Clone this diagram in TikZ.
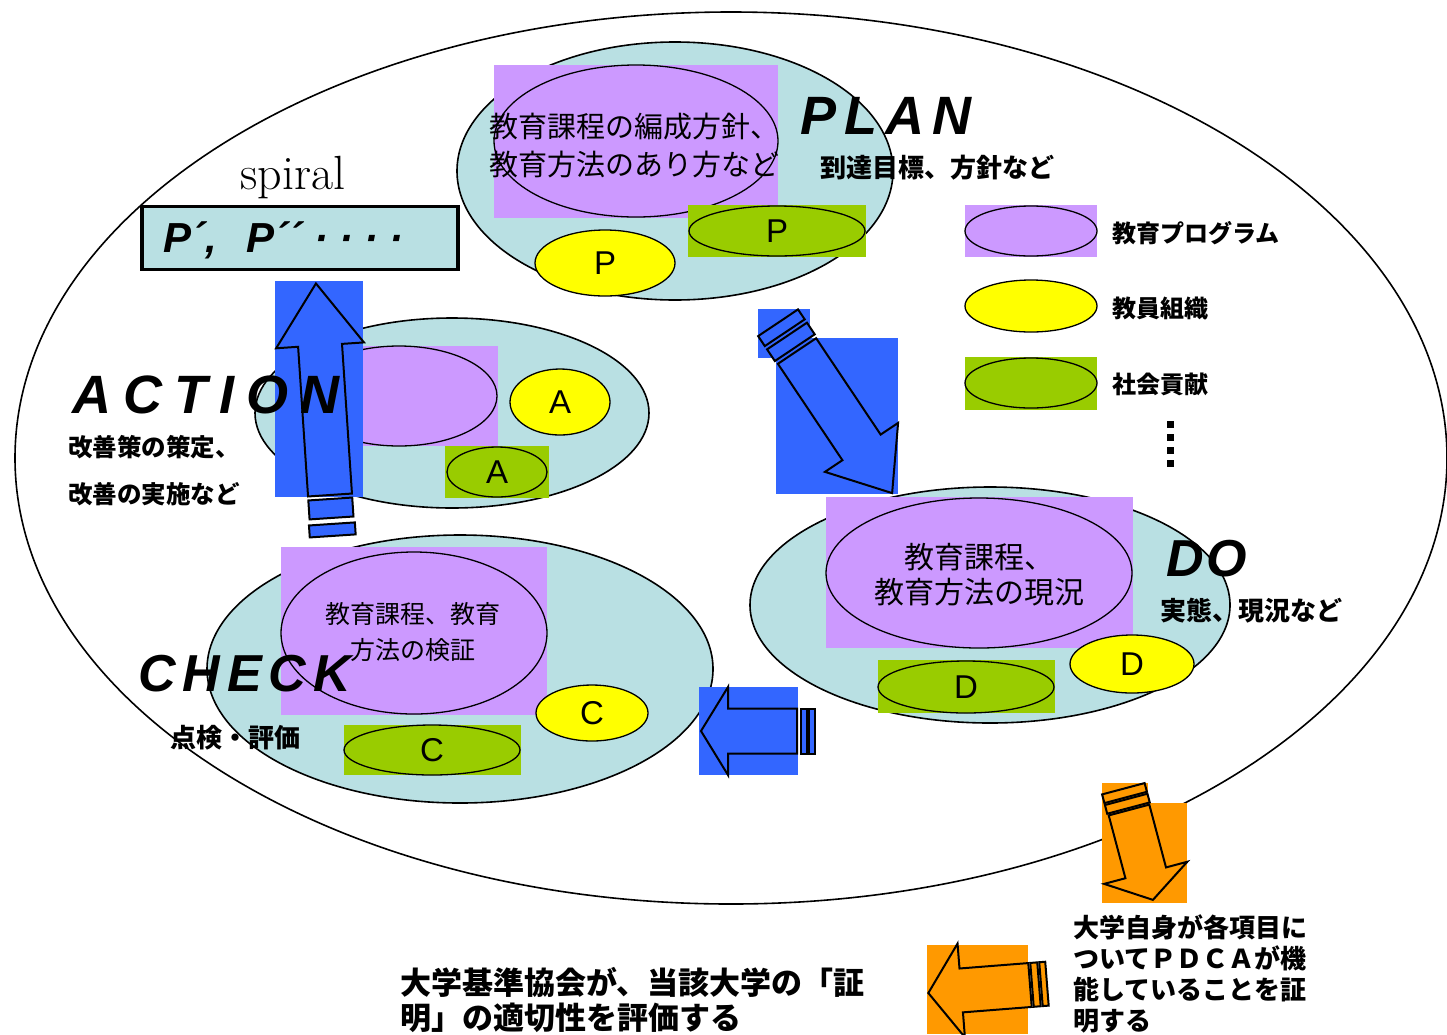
\documentclass[tikz,border=0pt]{standalone}
\usepackage{fontspec}
\newfontfamily\cjk{Noto Sans CJK JP}
\newfontfamily\arial{Liberation Sans}
\usetikzlibrary{shapes.geometric}
\definecolor{lblue}{HTML}{B9E0E3}
\definecolor{purp}{HTML}{CC99FF}
\definecolor{yel}{HTML}{FFFF00}
\definecolor{grn}{HTML}{99CC00}
\definecolor{blu}{HTML}{3366FF}
\definecolor{org}{HTML}{FF9900}
\tikzset{
  bigell/.style={ellipse, draw, line width=1.6pt, inner sep=0pt},
  cluster/.style={ellipse, draw, line width=1.6pt, fill=lblue, inner sep=0pt},
  oval/.style={ellipse, draw, line width=1.3pt, inner sep=0pt},
  yoval/.style={oval, fill=yel},
  goval/.style={oval, fill=grn},
  poval/.style={oval, fill=purp},
  letter/.style={font=\arial\fontsize{33}{33}\selectfont},
  phase/.style={font=\arial\bfseries\itshape\fontsize{54}{54}\selectfont, inner sep=0pt},
  note/.style={font=\cjk\bfseries\fontsize{26}{26}\selectfont, inner sep=0pt, anchor=west},
  inner/.style={font=\cjk\fontsize{29}{38}\selectfont, align=center, inner sep=0pt},
  arrowline/.style={draw=black, line width=2pt, line join=miter},
}
\newcommand\blockarrow[7]{%
  \begin{scope}[shift={#1},rotate=#2]
    \draw[arrowline,fill=#7] (0,-#6) -- ({#3-#4},-#6) -- ({#3-#4},-#5) -- (#3,0) -- ({#3-#4},#5) -- ({#3-#4},#6) -- (0,#6) -- cycle;
  \end{scope}}
\newcommand\arrowstripe[6]{%
  \begin{scope}[shift={#1},rotate=#2]
    \draw[arrowline,fill=#6] (-#3,-#5) rectangle (-#4,#5);
  \end{scope}}
\begin{document}
\begin{tikzpicture}[x=1pt,y=-1pt]
\useasboundingbox[fill=white] (0,0) rectangle (1447,1034);
% big ellipse
\node[bigell, minimum width=1432, minimum height=892] (world) at (731,458) {};
% clusters
\node[cluster, minimum width=436, minimum height=258] (planE) at (675,171) {};
\node[cluster, minimum width=394, minimum height=190] (actE) at (452,413) {};
\node[cluster, minimum width=506, minimum height=268] (chkE) at (460,669) {};
\node[cluster, minimum width=480, minimum height=236] (doE) at (990,605) {};
% PLAN group
\fill[purp] (494,65) rectangle (778,218);
\node[oval, minimum width=284, minimum height=152] (planP) at (636,141) {};
\node[inner] (planT) at (634,145) {教育課程の編成方針、\\教育方法のあり方など};
\fill[grn] (688,205) rectangle (866,257);
\node[goval, letter, minimum width=176, minimum height=50] (planG) at (777,231) {P};
\node[yoval, letter, minimum width=140, minimum height=66] (planY) at (605,263) {P};
% ACTION group
\fill[purp] (363,346) rectangle (498,446);
\node[poval, minimum width=196, minimum height=100] (actP) at (399,396) {};
\node[yoval, letter, minimum width=100, minimum height=66] (actY) at (560,402) {A};
\fill[grn] (445,446) rectangle (549,498);
\node[goval, letter, minimum width=100, minimum height=50] (actG) at (497,472) {A};
% CHECK group
\fill[purp] (281,547) rectangle (547,715);
\node[oval, minimum width=266, minimum height=162] (chkP) at (414,633) {};
\node[inner, font=\cjk\fontsize{25}{36}\selectfont] (chkT) at (413,632) {教育課程、教育\\方法の検証};
\node[yoval, letter, minimum width=112, minimum height=56] (chkY) at (592,713) {C};
\fill[grn] (344,725) rectangle (521,775);
\node[goval, letter, minimum width=176, minimum height=50] (chkG) at (432,750) {C};
% DO group
\fill[purp] (826,497) rectangle (1133,648);
\node[oval, minimum width=306, minimum height=150] (doP) at (979,573) {};
\node[inner, font=\cjk\fontsize{30}{35}\selectfont] (doT) at (979,575) {教育課程、\\教育方法の現況};
\node[yoval, letter, minimum width=124, minimum height=58] (doY) at (1132,664) {D};
\fill[grn] (878,660) rectangle (1055,713);
\node[goval, letter, minimum width=176, minimum height=52] (doG) at (966,687) {D};
% blue arrows
\fill[blu] (275,281) rectangle (363,497);
\blockarrow{(330,495)}{93.8}{212}{62}{44}{22}{blu}
\arrowstripe{(330,495)}{93.8}{4}{23}{22}{blu}
\arrowstripe{(330,495)}{93.8}{29}{41}{23}{blu}
\fill[blu] (776,338) rectangle (898,494);
\fill[blu] (758,309) rectangle (810,358);
\blockarrow{(797,351)}{-56.2}{171}{55}{44}{23}{blu}
\arrowstripe{(797,351)}{-56.2}{4}{18}{24}{blu}
\arrowstripe{(797,351)}{-56.2}{22}{34}{24}{blu}
\fill[blu] (699,687) rectangle (798,775);
\blockarrow{(797,731)}{180}{96}{27}{44}{22.5}{blu}
\arrowstripe{(797,731)}{180}{4}{10}{22.5}{blu}
\arrowstripe{(797,731)}{180}{12}{18}{22.5}{blu}
% phase labels
\node[phase, anchor=west] (planL) at (800,116) {P\hspace{8pt}L\hspace{8pt}A\hspace{8pt}N};
\node[note] (planN) at (820,168) {到達目標、方針など};
\node[phase, anchor=west] (actL) at (72,395) {A\hspace{12pt}C\hspace{12pt}T\hspace{12pt}I\hspace{12pt}O\hspace{12pt}N};
\node[note, font=\cjk\bfseries\fontsize{24.5}{24.5}\selectfont] (actN1) at (68,447) {改善策の策定、};
\node[note, font=\cjk\bfseries\fontsize{24.5}{24.5}\selectfont] (actN2) at (68,494) {改善の実施など};
\node[phase, anchor=west, font=\arial\bfseries\itshape\fontsize{52}{52}\selectfont] (chkL) at (138,674) {C\hspace{7pt}H\hspace{7pt}E\hspace{7pt}C\hspace{7pt}K};
\node[note] (chkN) at (170,738) {点検・評価};
\node[phase, anchor=west, font=\arial\bfseries\itshape\fontsize{52}{52}\selectfont] (doL) at (1166,559) {D\hspace{3pt}O};
\node[note] (doN) at (1160,611) {実態、現況など};
% spiral
\node[font=\fontsize{48}{48}\selectfont, inner sep=0pt] (spiral) at (293,178) {spiral};
\node[draw, line width=3.5pt, fill=lblue, minimum width=316, minimum height=63, inner sep=0pt] (pbox) at (300,238) {};
\node[font=\arial\bfseries\itshape\fontsize{42}{42}\selectfont, anchor=west, inner sep=0pt] (ptext) at (163,240) {P´,\hspace{30pt}P´´\hspace{12pt}·\hspace{11pt}·\hspace{11pt}·\hspace{11pt}·};
% legend
\fill[purp] (965,205) rectangle (1097,257);
\node[oval, minimum width=132, minimum height=50] (legP) at (1031,231) {};
\node[note, font=\cjk\bfseries\fontsize{24}{24}\selectfont] (legPT) at (1112,233) {教育プログラム};
\node[yoval, minimum width=132, minimum height=52] (legY) at (1031,306) {};
\node[note, font=\cjk\bfseries\fontsize{24}{24}\selectfont] (legYT) at (1112,308) {教員組織};
\fill[grn] (965,357) rectangle (1097,410);
\node[goval, minimum width=132, minimum height=50] (legG) at (1031,383) {};
\node[note, font=\cjk\bfseries\fontsize{24}{24}\selectfont] (legGT) at (1112,384) {社会貢献};
\foreach \yy in {421,434,447,460} \fill (1167,\yy) rectangle (1174,\yy+7);
% orange arrows
\fill[org] (1102,783) rectangle (1148,803);
\fill[org] (1102,803) rectangle (1187,903);
\blockarrow{(1129,810)}{-75.1}{93}{28}{43}{21}{org}
\arrowstripe{(1129,810)}{-75.1}{2}{11}{22}{org}
\arrowstripe{(1129,810)}{-75.1}{13}{22}{22}{org}
\fill[org] (927,945) rectangle (1028,1034);
\blockarrow{(1030,985)}{184.5}{102}{33}{47}{22}{org}
\arrowstripe{(1030,985)}{184.5}{2}{9}{22}{org}
\arrowstripe{(1030,985)}{184.5}{11}{17}{22}{org}
% bottom notes
\node[note, font=\cjk\bfseries\fontsize{26}{31}\selectfont, align=left, anchor=north west] (selfT) at (1073,914) {大学自身が各項目に\\ついてＰＤＣＡが機\\能していることを証\\明する};
\node[note, font=\cjk\bfseries\fontsize{31}{35}\selectfont, align=left, anchor=north west] (jubaT) at (400,967) {大学基準協会が、当該大学の「証\\明」の適切性を評価する};
\end{tikzpicture}
\end{document}
